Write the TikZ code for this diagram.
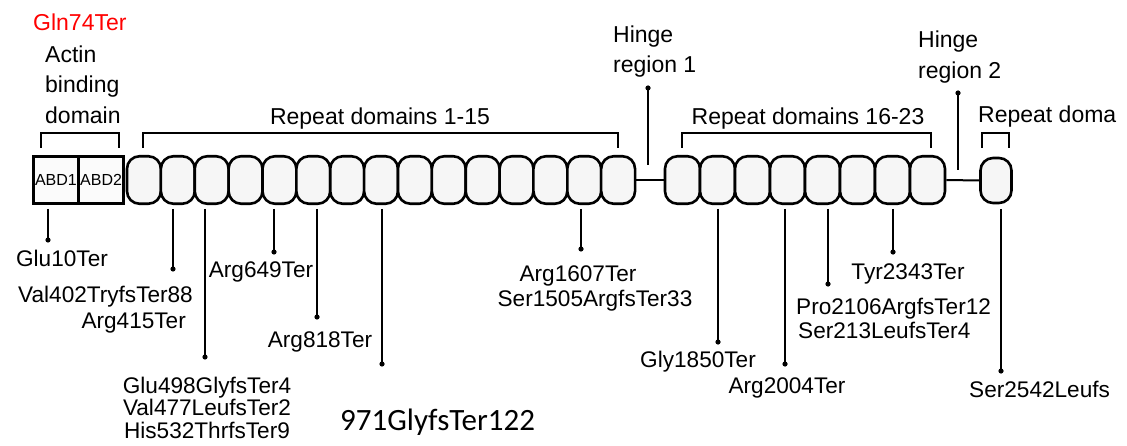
\documentclass[tikz,border=0pt]{standalone}
\usepackage{fontspec}
\setmainfont{Liberation Sans}
\newfontfamily\calfont{Carlito}
\begin{document}
\begin{tikzpicture}[x=1pt,y=-1pt,
    repeatbox/.style={draw,line width=2.6pt,rounded corners=12.5pt,fill=gray!7,inner sep=0pt,minimum height=47.5pt},
    abdbox/.style={draw,line width=2.6pt,fill=gray!3,inner sep=0pt,minimum width=45.2pt,minimum height=47.5pt,font=\fontsize{16}{18}\selectfont},
    lbl/.style={font=\fontsize{23}{27}\selectfont,inner sep=0pt,anchor=base},
    mut/.style={font=\fontsize{22.6}{24}\selectfont,inner sep=0pt,anchor=base},
    pin/.style={line width=2.2pt},
    brace/.style={line width=2pt}]
    \useasboundingbox (0,0) rectangle (1127,446);
    % protein
    \node[abdbox] (abd1) at (55.9,180) {ABD1};
    \node[abdbox] (abd2) at (101.1,180) {ABD2};
    \foreach \i in {1,...,15}
        \node[repeatbox,minimum width=33.87pt] (r\i) at ({127+33.87*(\i-0.5)},180) {};
    \foreach \i in {16,...,23}
        \node[repeatbox,minimum width=35pt] (r\i) at ({665+35*(\i-15.5)},180) {};
    \node[repeatbox,minimum width=31pt,minimum height=45pt] (r24) at (996,180.5) {};
    \draw[line width=2pt] (r15.east) -- (r16.west);
    \draw[line width=2pt] (r23.east) -- (r24.west);
    % brackets
    \draw[brace] (41,148) -- (41,133) -- (119,133) -- (119,148);
    \draw[brace] (143,148) -- (143,133) -- (618,133) -- (618,148);
    \draw[brace] (682,148) -- (682,133) -- (931,133) -- (931,148);
    \draw[brace] (982,148) -- (982,133) -- (1009,133) -- (1009,148);
    % domain labels
    \node[lbl,anchor=base west,text=red] (gln) at (33,31) {Gln74Ter};
    \node[lbl,anchor=base west] (actin1) at (45,63) {Actin};
    \node[lbl,anchor=base west] (actin2) at (45,93) {binding};
    \node[lbl,anchor=base west] (actin3) at (45,124) {domain};
    \node[lbl] (rep1) at (380,125) {Repeat domains 1-15};
    \node[lbl] (rep2) at (808,125) {Repeat domains 16-23};
    \node[lbl,anchor=base west] (rep3) at (978,123) {Repeat doma};
    \node[lbl,anchor=base west] (hinge1a) at (613,43) {Hinge};
    \node[lbl,anchor=base west] (hinge1b) at (613,73) {region 1};
    \node[lbl,anchor=base west] (hinge2a) at (918,48) {Hinge};
    \node[lbl,anchor=base west] (hinge2b) at (918,79) {region 2};
    % hinge pointers
    \coordinate (h1top) at (648,88);
    \coordinate (h1bot) at (648,165);
    \coordinate (h2top) at (958,93);
    \coordinate (h2bot) at (958,170);
    \draw[pin] (h1top) -- (h1bot);
    \draw[pin] (h2top) -- (h2bot);
    \fill (h1top) circle (2.6pt);
    \fill (h2top) circle (2.6pt);
    % mutation pointers
    \foreach \x/\y in {48/240,173/269,205/357,274/252,317/317,382/364,581/249,718/342,785/364,828/284,893/252,1001/371}{
        \coordinate (top\x) at (\x,209);
        \coordinate (tip\x) at (\x,\y);
        \draw[pin] (top\x) -- (tip\x);
        \fill (tip\x) circle (2.6pt);
    }
    % mutations
    \node[mut] (glu10) at (62,267) {Glu10Ter};
    \node[mut,anchor=base east] (val402) at (193,303) {Val402TryfsTer88};
    \node[mut,anchor=base east] (arg415) at (186,328) {Arg415Ter};
    \node[mut] (glu498) at (207,393) {Glu498GlyfsTer4};
    \node[mut] (val477) at (207,415) {Val477LeufsTer2};
    \node[mut] (his532) at (207,438) {His532ThrfsTer9};
    \node[mut] (arg649) at (261,278) {Arg649Ter};
    \node[mut] (arg818) at (320,347) {Arg818Ter};
    \node[mut,anchor=base west,font=\calfont\fontsize{31}{33}\selectfont] (gly971) at (340,430) {971GlyfsTer122};
    \node[mut] (arg1607) at (578,282) {Arg1607Ter};
    \node[mut] (ser1505) at (595,307) {Ser1505ArgfsTer33};
    \node[mut] (gly1850) at (698,367) {Gly1850Ter};
    \node[mut] (arg2004) at (787,393) {Arg2004Ter};
    \node[mut,anchor=base west] (pro2106) at (796,315) {Pro2106ArgfsTer12};
    \node[mut,anchor=base west] (ser213) at (798,338) {Ser213LeufsTer4};
    \node[mut] (tyr2343) at (908,280) {Tyr2343Ter};
    \node[mut,anchor=base west] (ser2542) at (969,397) {Ser2542Leufs};
\end{tikzpicture}
\end{document}
